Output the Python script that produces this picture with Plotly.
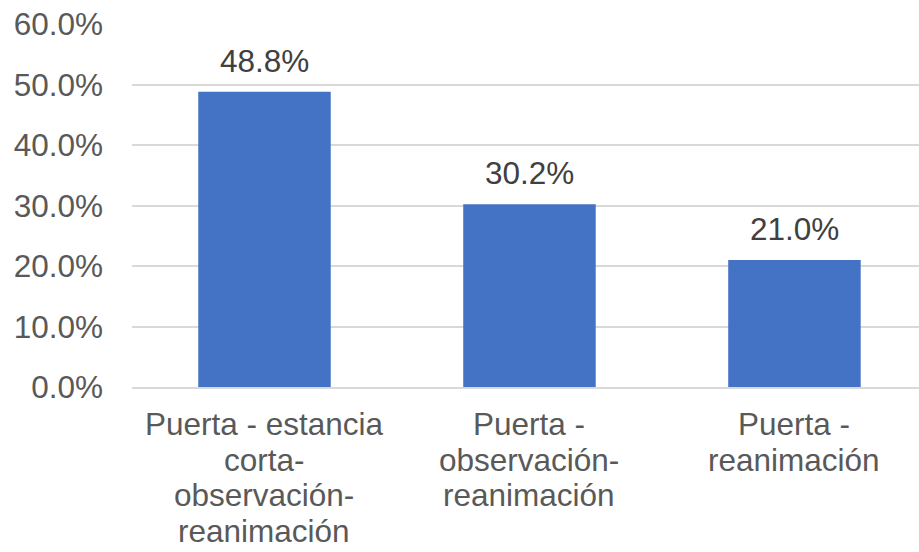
import plotly.graph_objects as go

categories = [
    "Puerta - estancia corta-observación-reanimación",
    "Puerta - observación-reanimación",
    "Puerta - reanimación",
]
# wrapped category labels, one list of lines per category
category_lines = [
    ["Puerta - estancia", "corta-", "observación-", "reanimación"],
    ["Puerta -", "observación-", "reanimación"],
    ["Puerta -", "reanimación"],
]
values = [0.488, 0.302, 0.210]
y_ticks = [0.0, 0.1, 0.2, 0.3, 0.4, 0.5, 0.6]

FONT = "Liberation Sans, Arial, sans-serif"
SIZE = 31.5
LINE_STEP = 35.5  # vertical distance between wrapped label lines (px)

fig = go.Figure(
    go.Bar(
        x=categories,
        y=values,
        marker=dict(color="#4472C4", line=dict(width=0)),
        hoverinfo="skip",
    )
)

# value labels above each bar
for cat, v in zip(categories, values):
    fig.add_annotation(
        x=cat, y=v, text=f"{v * 100:.1f}%",
        showarrow=False, yanchor="bottom", yshift=11,
        font=dict(family=FONT, size=SIZE, color="#404040"),
    )

# category labels under the axis, tighter line spacing than <br> gives
for cat, lines in zip(categories, category_lines):
    for i, line in enumerate(lines):
        fig.add_annotation(
            x=cat, xref="x", y=0, yref="paper", text=line,
            showarrow=False, yanchor="top", xanchor="center",
            yshift=-17 - i * LINE_STEP,
            font=dict(family=FONT, size=SIZE, color="#595959"),
        )

fig.update_layout(
    width=919, height=552,
    margin=dict(l=132, r=0, t=24, b=165),
    paper_bgcolor="white", plot_bgcolor="white",
    bargap=0.5,
    showlegend=False,
    font=dict(family=FONT, size=SIZE, color="#595959"),
)
fig.update_yaxes(
    range=[0, 0.6], tickvals=y_ticks, tickformat=".1%",
    showgrid=True, gridcolor="#D9D9D9", gridwidth=1.5,
    zeroline=False, showline=False, ticks="",
    ticklabelstandoff=28,
    tickfont=dict(family=FONT, size=SIZE, color="#595959"),
)
# the category band runs slightly past the right edge of the figure
fig.update_xaxes(
    range=[-0.5, 2.47],
    showgrid=False, showline=True, linecolor="#D9D9D9", linewidth=1.5,
    ticks="", showticklabels=False,
)

fig.write_html("out.html")
